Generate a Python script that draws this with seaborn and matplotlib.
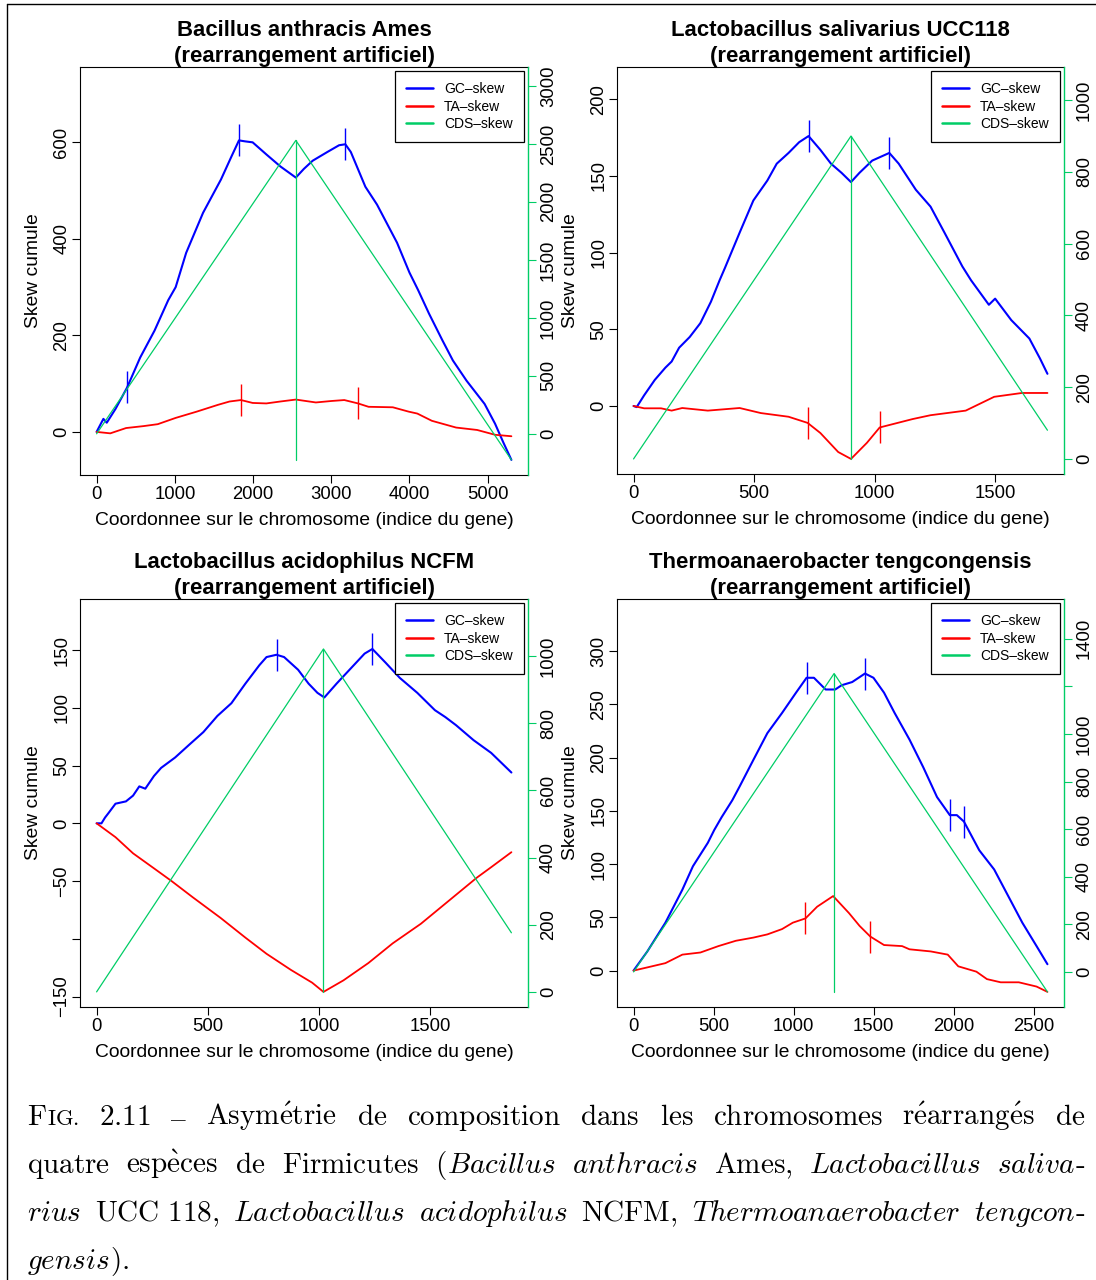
import numpy as np
import matplotlib
matplotlib.use('Agg')
import matplotlib.pyplot as plt
from matplotlib.lines import Line2D
import seaborn as sns

# ------------- DONNEES

# Bacillus anthracis Ames
ba_gc_x = [0, 87, 130, 243, 390, 557, 741, 916, 1011, 1145, 1361, 1590, 1725, 1820, 1900, 1995,
           2170, 2350, 2547, 2650, 2763, 2950, 3100, 3180, 3250, 3436, 3585, 3841, 4000, 4110,
           4250, 4420, 4555, 4730, 4960, 5094, 5200, 5303]
ba_gc_y = [0, 27, 19, 48, 92, 154, 210, 273, 300, 371, 454, 523, 571, 604, 602, 600,
           575, 550, 527, 545, 562, 580, 594, 596, 580, 508, 471, 392, 330, 294,
           245, 190, 148, 106, 58, 17, -22, -58]
ba_ta_x = [0, 175, 377, 600, 782, 1011, 1280, 1550, 1700, 1846, 1995, 2170, 2350, 2547, 2803,
           3000, 3167, 3342, 3477, 3787, 3989, 4100, 4286, 4596, 4865, 5094, 5303]
ba_ta_y = [0, -3, 8, 12, 16, 29, 42, 56, 63, 66, 60, 59, 63, 67, 61,
           64, 66, 59, 52, 51, 42, 38, 23, 9, 4, -6, -9]
ba_cds_x = [0, 2547, 5303]
ba_cds_y = [0, 2530, -225]
ba_gc_mark_x = [390, 1820, 3180]
ba_gc_mark_y = [92, 604, 596]
ba_ta_mark_x = [1846, 3342]
ba_ta_mark_y = [66, 59]

# Lactobacillus salivarius UCC118
ls_gc_x = [0, 13, 44, 88, 132, 158, 189, 233, 277, 321, 357, 379, 440, 497, 555, 594, 643, 687,
           726, 775, 819, 863, 902, 937, 990, 1061, 1100, 1171, 1232, 1290, 1364, 1400, 1474,
           1500, 1567, 1642, 1686, 1717]
ls_gc_y = [0, -0.7, 7, 17, 25, 29, 38, 45, 54, 68, 82, 90, 113, 134, 147, 158, 165, 172,
           176, 167, 158, 152, 146, 152, 160, 165, 158, 141, 130, 113, 91, 82, 66,
           70, 56, 44, 31, 21]
ls_ta_x = [0, 44, 114, 158, 202, 308, 440, 528, 643, 722, 775, 849, 902, 968, 1021, 1158,
           1232, 1378, 1496, 1611, 1717]
ls_ta_y = [0, -1.5, -1.5, -3, -1.3, -3, -1.3, -4.6, -7, -11, -17.6, -30, -34.5, -24, -14, -8.5,
           -6, -3, 6, 8.5, 8.5]
ls_cds_x = [0, 902, 1717]
ls_cds_y = [0, 900, 80]
ls_gc_mark_x = [726, 1061]
ls_gc_mark_y = [176, 165]
ls_ta_mark_x = [722, 1021]
ls_ta_mark_y = [-11, -14]

# Lactobacillus acidophilus NCFM
la_gc_x = [0, 22, 38, 54, 85, 132, 164, 192, 219, 258, 290, 353, 416, 480, 543, 606, 669, 732,
           764, 809, 843, 906, 953, 993, 1024, 1079, 1142, 1205, 1240, 1300, 1363, 1442, 1521,
           1568, 1616, 1695, 1774, 1865]
la_gc_y = [0, 0, 5, 9, 17, 19, 24, 32, 30, 41, 48, 57, 68, 79, 93, 104, 121, 137,
           144, 146, 144, 133, 121, 113, 109, 121, 134, 147, 151, 139, 126, 113, 98,
           92, 85, 72, 61, 44]
la_ta_x = [0, 85, 164, 258, 337, 432, 558, 669, 764, 874, 969, 1020, 1110, 1222, 1331, 1458,
           1584, 1710, 1774, 1865]
la_ta_y = [0, -12, -26, -39, -50, -64, -82, -99, -113, -127, -138, -146, -136, -121, -104, -87,
           -67, -47, -38, -25]
la_cds_x = [0, 1020, 1865]
la_cds_y = [0, 1021, 176]
la_gc_mark_x = [809, 1240]
la_gc_mark_y = [146, 151]
la_ta_mark_x = []
la_ta_mark_y = []

# Thermoanaerobacter tengcongensis
tt_gc_x = [0, 86, 199, 305, 371, 464, 504, 550, 617, 663, 749, 836, 928, 1015, 1081, 1127, 1167,
           1200, 1260, 1300, 1366, 1446, 1499, 1565, 1631, 1724, 1810, 1896, 1976, 2020, 2064,
           2160, 2253, 2341, 2429, 2518, 2586]
tt_gc_y = [0, 18, 45, 76, 98, 120, 132, 144, 160, 173, 198, 223, 242, 261, 275, 275, 269,
           264, 264, 268, 271, 279, 275, 261, 242, 217, 191, 163, 146, 146, 140,
           113, 95, 70, 45, 23, 6]
tt_ta_x = [0, 86, 199, 305, 418, 530, 639, 749, 836, 928, 995, 1074, 1147, 1247, 1346, 1412,
           1479, 1565, 1678, 1724, 1857, 1963, 2029, 2142, 2208, 2294, 2407, 2518, 2586]
tt_ta_y = [0, 3, 7, 15, 17, 23, 28, 31, 34, 39, 45, 49, 60, 70, 54, 42,
           32, 24, 23, 20, 18, 15, 4, -1, -8, -11, -11, -15, -20]
tt_cds_x = [0, 1253, 2586]
tt_cds_y = [0, 1254, -84]
tt_gc_mark_x = [1081, 1446, 1976, 2064]
tt_gc_mark_y = [275, 279, 146, 140]
tt_ta_mark_x = [1074, 1479]
tt_ta_mark_y = [49, 32]

titles = ['Bacillus anthracis Ames\n(rearrangement artificiel)',
          'Lactobacillus salivarius UCC118\n(rearrangement artificiel)',
          'Lactobacillus acidophilus NCFM\n(rearrangement artificiel)',
          'Thermoanaerobacter tengcongensis\n(rearrangement artificiel)']
x_ticks = [[0, 1000, 2000, 3000, 4000, 5000], [0, 500, 1000, 1500],
           [0, 500, 1000, 1500], [0, 500, 1000, 1500, 2000, 2500]]
y_ticks = [[0, 200, 400, 600], [0, 50, 100, 150, 200],
           [-150, -100, -50, 0, 50, 100, 150], [0, 50, 100, 150, 200, 250, 300]]
y_hidden = [[], [], [-100], []]
r_ticks = [[0, 500, 1000, 1500, 2000, 2500, 3000], [0, 200, 400, 600, 800, 1000],
           [0, 200, 400, 600, 800, 1000], [0, 200, 400, 600, 800, 1000, 1200, 1400]]
r_hidden = [[], [], [], [1200]]
legend_labels = ['GC\u2013skew', 'TA\u2013skew', 'CDS\u2013skew']

# ------------- FIGURE

sns.set_style('white')
plt.rcParams['font.family'] = ['Liberation Sans', 'DejaVu Sans']
plt.rcParams['mathtext.fontset'] = 'cm'
plt.rcParams['text.color'] = 'black'
plt.rcParams['axes.labelcolor'] = 'black'
plt.rcParams['axes.titlecolor'] = 'black'
plt.rcParams['xtick.color'] = 'black'
plt.rcParams['ytick.color'] = 'black'

BLUE = '#0000FF'
RED = '#FF0000'
GREEN = '#00CD66'
W, H = 1096, 1280

fig = plt.figure(figsize=(W / 100, H / 100), dpi=100)

# boites des panneaux en pixels: gauche, droite, haut, bas
boxes = [(80, 528, 67, 475), (617, 1064, 67, 474), (80, 528, 599, 1007), (617, 1064, 599, 1007)]

data = [
    (ba_gc_x, ba_gc_y, ba_ta_x, ba_ta_y, ba_cds_x, ba_cds_y, ba_gc_mark_x, ba_gc_mark_y, ba_ta_mark_x, ba_ta_mark_y),
    (ls_gc_x, ls_gc_y, ls_ta_x, ls_ta_y, ls_cds_x, ls_cds_y, ls_gc_mark_x, ls_gc_mark_y, ls_ta_mark_x, ls_ta_mark_y),
    (la_gc_x, la_gc_y, la_ta_x, la_ta_y, la_cds_x, la_cds_y, la_gc_mark_x, la_gc_mark_y, la_ta_mark_x, la_ta_mark_y),
    (tt_gc_x, tt_gc_y, tt_ta_x, tt_ta_y, tt_cds_x, tt_cds_y, tt_gc_mark_x, tt_gc_mark_y, tt_ta_mark_x, tt_ta_mark_y),
]


def lab(v):
    return str(v).replace('-', '\u2212')


for i, (gx, gy, tx, ty, cx, cy, gmx, gmy, tmx, tmy) in enumerate(data):
    l, r, t, b = boxes[i]
    wpx, hpx = r - l, b - t
    ax = fig.add_axes([l / W, 1 - b / H, wpx / W, hpx / H])

    sns.lineplot(x=gx, y=gy, ax=ax, color=BLUE, linewidth=1.5, sort=False, estimator=None)
    sns.lineplot(x=tx, y=ty, ax=ax, color=RED, linewidth=1.3, sort=False, estimator=None)
    ax.plot(gmx, gmy, ls='none', marker='|', ms=23, mew=1, color=BLUE)
    if tmx:
        ax.plot(tmx, tmy, ls='none', marker='|', ms=23, mew=1, color=RED)

    n = max(gx)
    lo = min(min(gy), min(ty))
    hi = max(max(gy), max(ty))
    top = 1.2 * hi
    rng = top - lo
    ax.set_xlim(-0.04 * n, 1.04 * n)
    ax.set_ylim(lo - 0.04 * rng, top + 0.04 * rng)

    ax.set_xticks(x_ticks[i])
    ax.set_xticklabels([lab(v) for v in x_ticks[i]])
    ax.set_yticks(y_ticks[i])
    ax.set_yticklabels(['' if v in y_hidden[i] else lab(v) for v in y_ticks[i]],
                       rotation=90, va='center')
    ax.tick_params(axis='both', direction='out', length=5.5, width=0.8, colors='black',
                   labelsize=13.3, left=True, bottom=True)
    ax.tick_params(axis='x', pad=2.5)
    ax.tick_params(axis='y', pad=1.5)
    for s in ['left', 'bottom', 'top']:
        ax.spines[s].set_color('black')
        ax.spines[s].set_linewidth(0.8)
    ax.spines['right'].set_visible(False)

    ax.set_title(titles[i], fontsize=15.9, fontweight='bold', pad=1, linespacing=1.3,
                 color='black')
    ax.set_xlabel('Coordonnee sur le chromosome (indice du gene)', fontsize=13.9)
    ax.set_ylabel('Skew cumule', fontsize=13.9)
    ax.xaxis.set_label_coords(0.5, -37 / hpx)
    ax.yaxis.set_label_coords(-38 / wpx, 0.5)

    # axe droit : CDS-skew, min/max alignes sur ceux des skews
    ax2 = ax.twinx()
    cmin, cmax = min(cy), max(cy)
    k = (cmax - cmin) / (hi - lo)
    y0, y1 = ax.get_ylim()
    sns.lineplot(x=cx, y=cy, ax=ax2, color=GREEN, linewidth=0.9, sort=False, estimator=None)
    xp = cx[int(np.argmax(cy))]
    ax2.plot([xp, xp], [cmax, cmin], color=GREEN, linewidth=0.9)
    ax2.set_ylim(cmin + (y0 - lo) * k, cmin + (y1 - lo) * k)
    ax2.set_xlim(-0.04 * n, 1.04 * n)
    ax2.set_yticks(r_ticks[i])
    ax2.set_yticklabels(['' if v in r_hidden[i] else lab(v) for v in r_ticks[i]],
                        rotation=90, va='center')
    ax2.tick_params(axis='y', direction='out', length=5.5, width=0.8, color=GREEN,
                    labelcolor='black', labelsize=13.3, right=True, pad=3)
    for s in ['left', 'bottom', 'top']:
        ax2.spines[s].set_visible(False)
    ax2.spines['right'].set_color(GREEN)
    ax2.spines['right'].set_linewidth(1)
    ax2.set_ylabel('')
    ax2.set_xlabel('')

    handles = [Line2D([], [], color=BLUE, lw=1.8), Line2D([], [], color=RED, lw=1.8),
               Line2D([], [], color=GREEN, lw=1.8)]
    leg = ax2.legend(handles, legend_labels, loc='upper right',
                     bbox_to_anchor=(1 - 4.5 / wpx, 1 - 4 / hpx), borderaxespad=0,
                     fontsize=10, handlelength=1.9, handletextpad=0.8, borderpad=0.8,
                     labelspacing=0.25, fancybox=False, framealpha=1, edgecolor='black')
    leg.get_frame().set_linewidth(0.9)

# cadre (haut et gauche)
fig.add_artist(Line2D([7 / W, 1], [1 - 4 / H, 1 - 4 / H], transform=fig.transFigure,
                      color='black', lw=1))
fig.add_artist(Line2D([7 / W, 7 / W], [0, 1 - 4 / H], transform=fig.transFigure,
                      color='black', lw=1))

# ------------- LEGENDE DE LA FIGURE (texte justifie)

SIZE = 21
caption = [
    ([[('F', 'rm'), ('IG.', 'sc')], [('2.11', 'rm')], [('\u2013', 'rm')],
      [('Asym\\acute{e}trie', 'rm')], [('de', 'rm')], [('composition', 'rm')], [('dans', 'rm')],
      [('les', 'rm')], [('chromosomes', 'rm')], [('r\\acute{e}arrang\\acute{e}s', 'rm')],
      [('de', 'rm')]], 1125, True),
    ([[('quatre', 'rm')], [('esp\\grave{e}ces', 'rm')], [('de', 'rm')], [('Firmicutes', 'rm')],
      [('(', 'rm'), ('Bacillus', 'it')], [('anthracis', 'it')], [('Ames,', 'rm')],
      [('Lactobacillus', 'it')], [('saliva', 'it'), ('-', 'hy')]], 1173, True),
    ([[('rius', 'it')], [('UCC\\ 118,', 'rm')], [('Lactobacillus', 'it')],
      [('acidophilus', 'it')], [('NCFM,', 'rm')], [('Thermoanaerobacter', 'it')],
      [('tengcon', 'it'), ('-', 'hy')]], 1221, True),
    ([[('gensis', 'it'), (').', 'rm')]], 1269, False),
]

renderer = fig.canvas.get_renderer()
X0, X1 = 27, 1085


def make_text(s, style, ypx):
    if style == 'hy':
        return fig.text(0, 1 - ypx / H, s, fontsize=SIZE, family='cmr10', ha='left',
                        va='baseline', color='black')
    size = SIZE * 0.77 if style == 'sc' else SIZE
    cmd = 'mathit' if style == 'it' else 'mathrm'
    return fig.text(0, 1 - ypx / H, '$\\' + cmd + '{' + s + '}$', fontsize=size,
                    ha='left', va='baseline', color='black')


for words, ypx, justify in caption:
    items = []
    total = 0
    for word in words:
        parts = []
        for s, style in word:
            txt = make_text(s, style, ypx)
            w = txt.get_window_extent(renderer).width
            parts.append((txt, w))
            total += w
        items.append(parts)
    gap = (X1 - X0 - total) / (len(words) - 1) if justify and len(words) > 1 else 8
    x = X0
    for parts in items:
        for txt, w in parts:
            txt.set_x(x / W)
            x += w
        x += gap

fig.savefig('out.png', dpi=100)
